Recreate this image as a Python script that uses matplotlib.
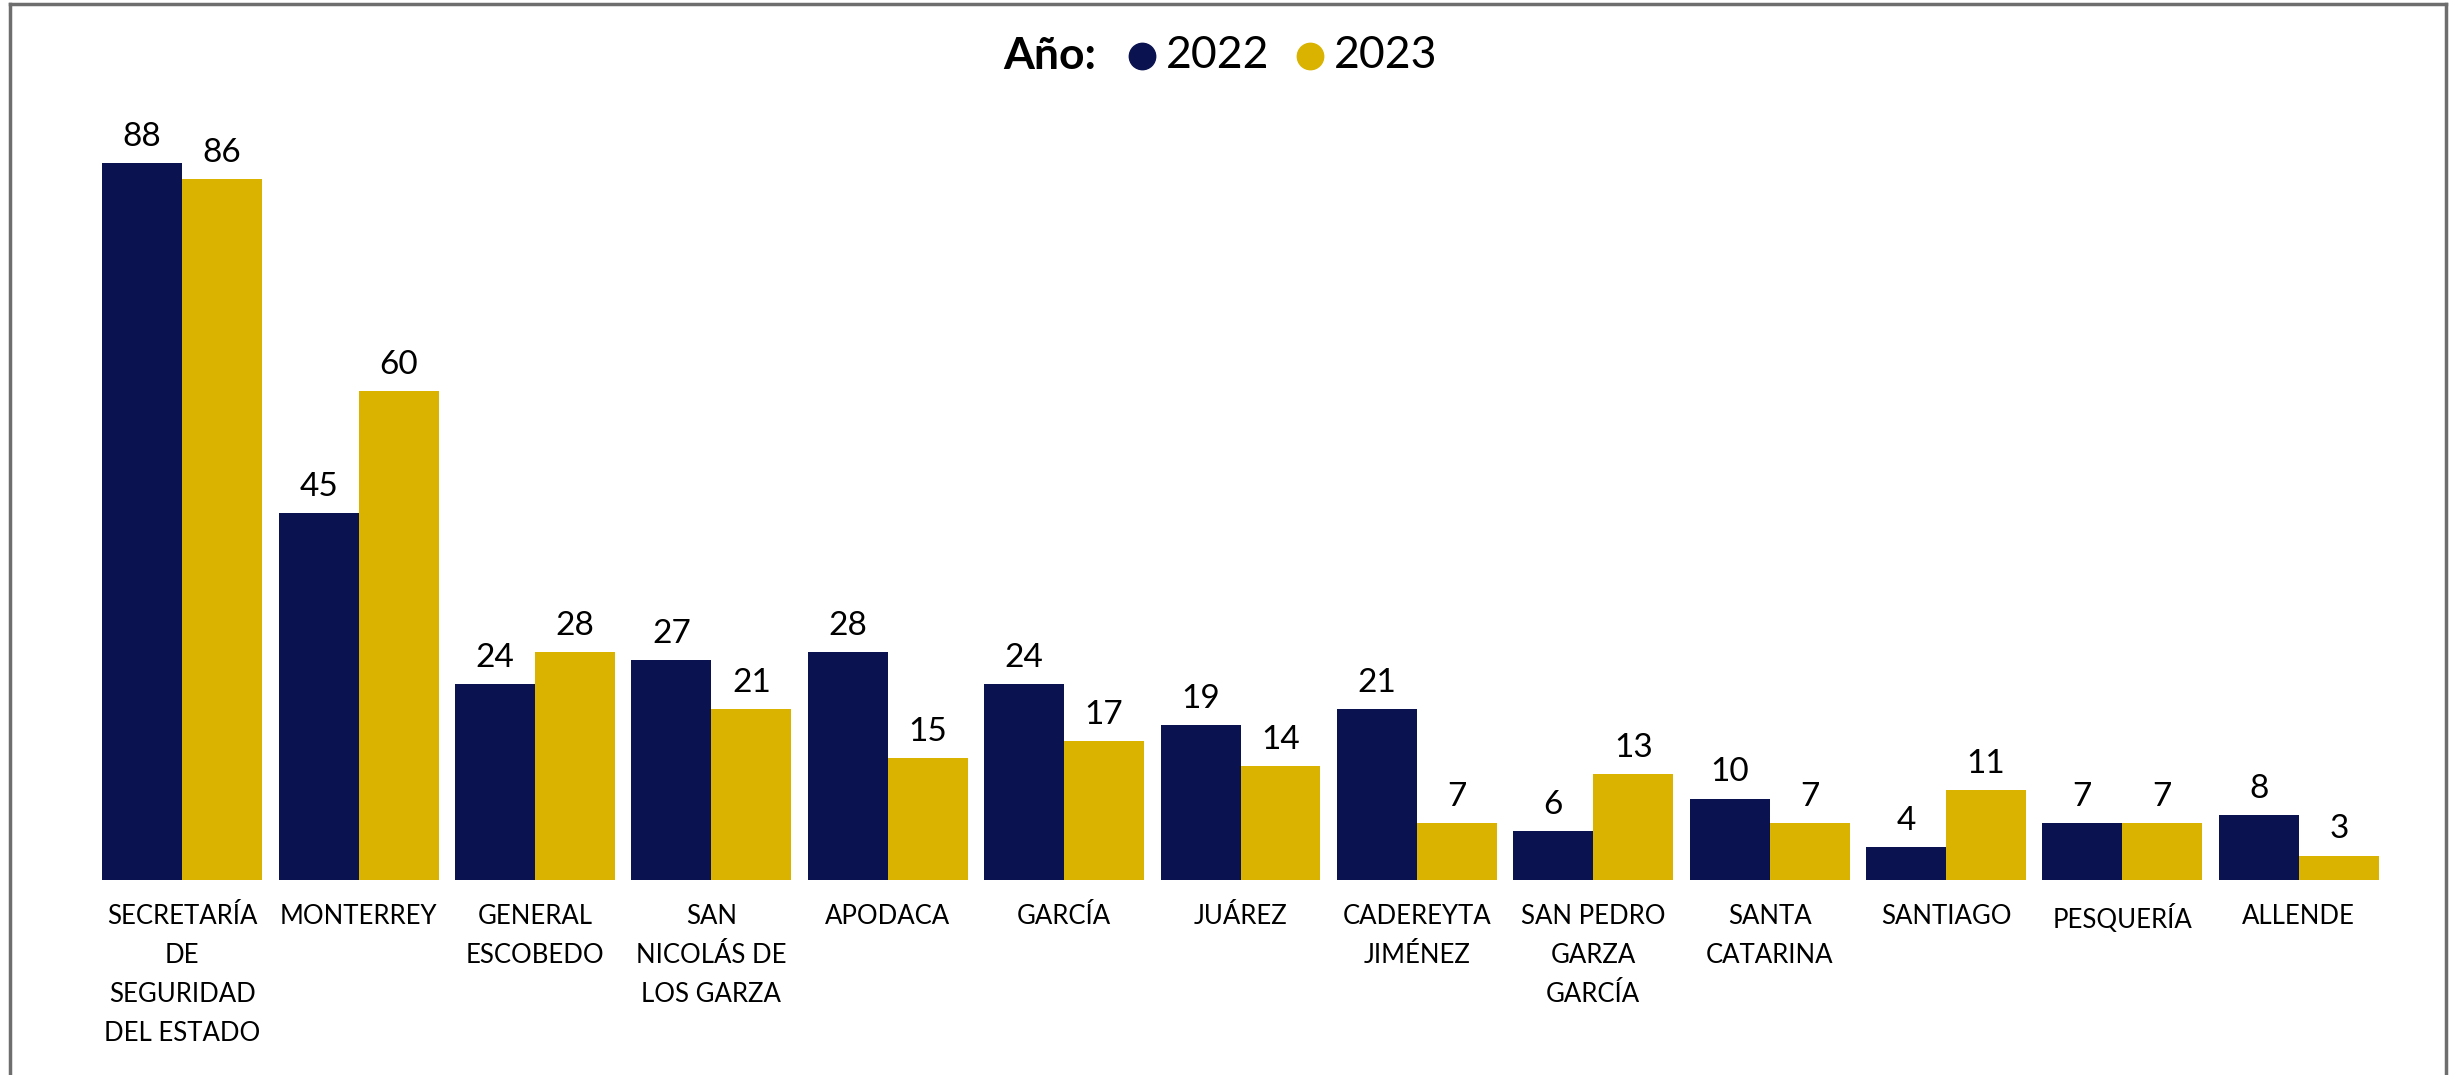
import numpy as np
import matplotlib
matplotlib.use("Agg")
import matplotlib.pyplot as plt
from matplotlib.lines import Line2D

plt.rcParams["font.family"] = ["Lato", "DejaVu Sans"]

# datos
categorias = [
    "SECRETARÍA\nDE\nSEGURIDAD\nDEL ESTADO",
    "MONTERREY",
    "GENERAL\nESCOBEDO",
    "SAN\nNICOLÁS DE\nLOS GARZA",
    "APODACA",
    "GARCÍA",
    "JUÁREZ",
    "CADEREYTA\nJIMÉNEZ",
    "SAN PEDRO\nGARZA\nGARCÍA",
    "SANTA\nCATARINA",
    "SANTIAGO",
    "PESQUERÍA",
    "ALLENDE",
]
valores_2022 = [88, 45, 24, 27, 28, 24, 19, 21, 6, 10, 4, 7, 8]
valores_2023 = [86, 60, 28, 21, 15, 17, 14, 7, 13, 7, 11, 7, 3]
anios = ["2022", "2023"]

color_2022 = "#0A1250"
color_2023 = "#D9B300"

W, H = 2453, 1075
fig = plt.figure(figsize=(W / 100, H / 100), dpi=100)
ax = fig.add_axes([94 / W, (H - 880) / H, (2387 - 94) / W, 815 / H])

x = np.arange(len(categorias))
ancho = 0.4535
b1 = ax.bar(x - ancho / 2, valores_2022, ancho, color=color_2022, linewidth=0)
b2 = ax.bar(x + ancho / 2, valores_2023, ancho, color=color_2023, linewidth=0)

ax.bar_label(b1, padding=8, fontsize=24, color="black")
ax.bar_label(b2, padding=8, fontsize=24, color="black")

ax.set_xlim(-0.5, len(categorias) - 0.5)
ax.set_ylim(0, 100)
ax.set_xticks(x)
ax.set_xticklabels(categorias, fontsize=18.5, linespacing=1.7, va="top")
ax.tick_params(axis="x", length=0, pad=17)
ax.set_yticks([])
for s in ax.spines.values():
    s.set_visible(False)

# leyenda manual: "Año:" + marcadores
yl = 1 - 56 / H
fig.text(1003 / W, yl, "Año:", fontsize=32, fontweight="bold", ha="left", va="center")
fig.add_artist(Line2D([1142 / W], [yl], marker="o", markersize=19,
                      color=color_2022, linestyle="none", transform=fig.transFigure))
fig.text(1166 / W, yl, anios[0], fontsize=32, ha="left", va="center")
fig.add_artist(Line2D([1310 / W], [yl], marker="o", markersize=19,
                      color=color_2023, linestyle="none", transform=fig.transFigure))
fig.text(1334 / W, yl, anios[1], fontsize=32, ha="left", va="center")

# marco gris
for xs, ys in [([10 / W, 10 / W], [0, 1 - 4 / H]),
               ([10 / W, 2446 / W], [1 - 4 / H, 1 - 4 / H]),
               ([2446 / W, 2446 / W], [1 - 4 / H, 0])]:
    fig.add_artist(Line2D(xs, ys, color="#6E6E6E", linewidth=2.5,
                          transform=fig.transFigure))

fig.savefig("out.png", dpi=100)
